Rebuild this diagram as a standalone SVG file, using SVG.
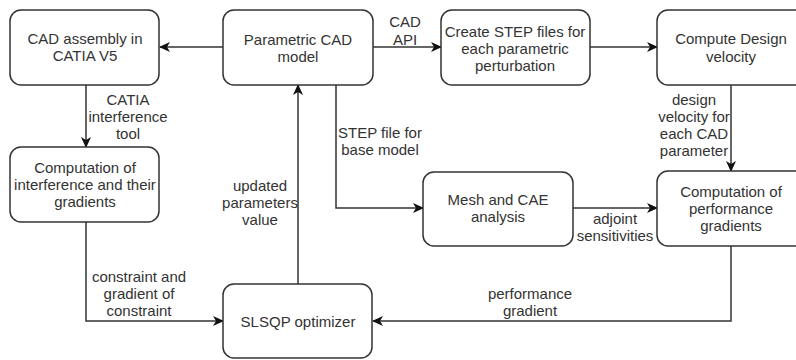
<svg xmlns="http://www.w3.org/2000/svg" width="796" height="360" viewBox="0 0 796 360">
<style>
.box{fill:#fff;stroke:#333;stroke-width:1.5}
.t{font-family:"Liberation Sans",Arial,sans-serif;font-size:15px;fill:#333;text-anchor:middle}
.c{fill:none;stroke:#333;stroke-width:1.5}
</style>
<defs>
<marker id="arr" markerWidth="12" markerHeight="10" refX="10" refY="5" orient="auto" markerUnits="userSpaceOnUse">
<path d="M0,0 L11,5 L0,10 L3,5 Z" fill="#111"/>
</marker>
</defs>
<rect width="796" height="360" fill="#fff"/>
<g id="connectors">
<path class="c" d="M223,47 H160" marker-end="url(#arr)"/>
<path class="c" d="M86,85 V147" marker-end="url(#arr)"/>
<path class="c" d="M373,47 H441" marker-end="url(#arr)"/>
<path class="c" d="M590,47 H657" marker-end="url(#arr)"/>
<path class="c" d="M731,85 V171" marker-end="url(#arr)"/>
<path class="c" d="M336,85 V208 H423" marker-end="url(#arr)"/>
<path class="c" d="M573,208 H657" marker-end="url(#arr)"/>
<path class="c" d="M731,246 V321 H373" marker-end="url(#arr)"/>
<path class="c" d="M86,222 V321 H223" marker-end="url(#arr)"/>
<path class="c" d="M298,284 V85" marker-end="url(#arr)"/>
<text class="t" x="405" y="27">CAD</text>
<text class="t" x="405" y="45">API</text>
<text class="t" x="128" y="105">CATIA</text>
<text class="t" x="128" y="122">interference</text>
<text class="t" x="128" y="139">tool</text>
<text class="t" x="380" y="138">STEP file for</text>
<text class="t" x="380" y="155">base model</text>
<text class="t" x="694" y="105">design</text>
<text class="t" x="694" y="122">velocity for</text>
<text class="t" x="694" y="139">each CAD</text>
<text class="t" x="694" y="156">parameter</text>
<text class="t" x="260" y="191">updated</text>
<text class="t" x="260" y="208">parameters</text>
<text class="t" x="260" y="225">value</text>
<text class="t" x="139" y="282">constraint and</text>
<text class="t" x="139" y="299">gradient of</text>
<text class="t" x="139" y="316">constraint</text>
<text class="t" x="615" y="224">adjoint</text>
<text class="t" x="615" y="241">sensitivities</text>
<text class="t" x="530" y="299">performance</text>
<text class="t" x="530" y="316">gradient</text>
</g>
<g id="cad-assembly">
<rect class="box" x="10" y="10" width="149" height="75" rx="11"/>
<text class="t" x="85" y="44">CAD assembly in</text>
<text class="t" x="85" y="61">CATIA V5</text>
</g>
<g id="parametric-cad">
<rect class="box" x="223" y="10" width="150" height="75" rx="11"/>
<text class="t" x="298" y="45">Parametric CAD</text>
<text class="t" x="298" y="62">model</text>
</g>
<g id="create-step">
<rect class="box" x="441" y="10" width="149" height="75" rx="11"/>
<text class="t" x="515" y="37">Create STEP files for</text>
<text class="t" x="515" y="54">each parametric</text>
<text class="t" x="515" y="71">perturbation</text>
</g>
<g id="compute-design-velocity">
<rect class="box" x="657" y="10" width="150" height="75" rx="11"/>
<text class="t" x="731" y="44">Compute Design</text>
<text class="t" x="731" y="62">velocity</text>
</g>
<g id="interference">
<rect class="box" x="10" y="147" width="149" height="75" rx="11"/>
<text class="t" x="85" y="173">Computation of</text>
<text class="t" x="85" y="190">interference and their</text>
<text class="t" x="85" y="207">gradients</text>
</g>
<g id="mesh-cae">
<rect class="box" x="423" y="172" width="150" height="74" rx="11"/>
<text class="t" x="498" y="205">Mesh and CAE</text>
<text class="t" x="498" y="222">analysis</text>
</g>
<g id="performance-gradients">
<rect class="box" x="657" y="171" width="150" height="75" rx="11"/>
<text class="t" x="731" y="197">Computation of</text>
<text class="t" x="731" y="214">performance</text>
<text class="t" x="731" y="231">gradients</text>
</g>
<g id="slsqp">
<rect class="box" x="223" y="284" width="149" height="74" rx="11"/>
<text class="t" x="298" y="327">SLSQP optimizer</text>
</g>
</svg>
